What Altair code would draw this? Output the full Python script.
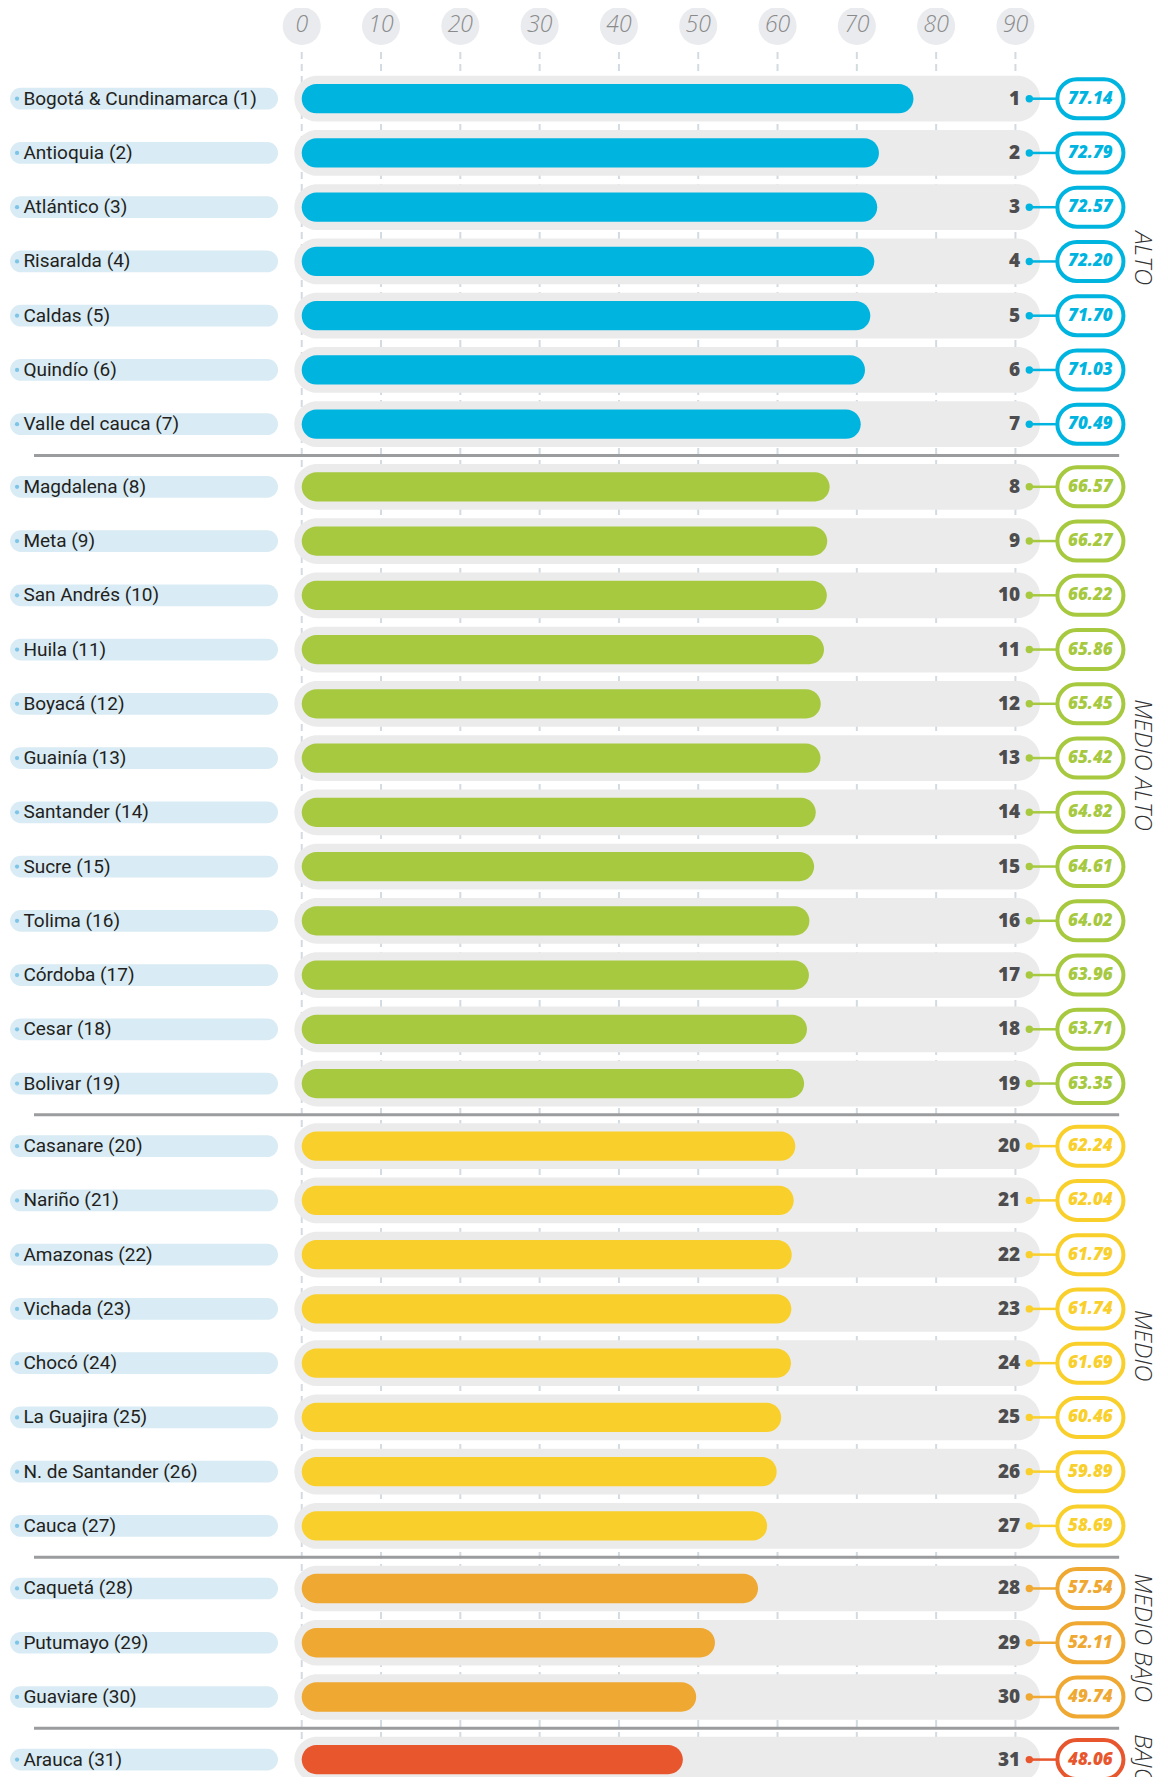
import altair as alt
import pandas as pd

# ---------------- data ----------------
names = ["Bogotá & Cundinamarca", "Antioquia", "Atlántico", "Risaralda", "Caldas",
         "Quindío", "Valle del cauca", "Magdalena", "Meta", "San Andrés", "Huila",
         "Boyacá", "Guainía", "Santander", "Sucre", "Tolima", "Córdoba", "Cesar",
         "Bolivar", "Casanare", "Nariño", "Amazonas", "Vichada", "Chocó",
         "La Guajira", "N. de Santander", "Cauca", "Caquetá", "Putumayo",
         "Guaviare", "Arauca"]
values = [77.14, 72.79, 72.57, 72.20, 71.70, 71.03, 70.49, 66.57, 66.27, 66.22,
          65.86, 65.45, 65.42, 64.82, 64.61, 64.02, 63.96, 63.71, 63.35, 62.24,
          62.04, 61.79, 61.74, 61.69, 60.46, 59.89, 58.69, 57.54, 52.11, 49.74,
          48.06]
group_names = ["ALTO", "MEDIO ALTO", "MEDIO", "MEDIO BAJO", "BAJO"]
group_sizes = [7, 12, 8, 3, 1]
group_colors = ["#00b4e0", "#a6c93f", "#f9cf2b", "#efa831", "#e8562e"]
tick_values = [0, 10, 20, 30, 40, 50, 60, 70, 80, 90]

# ---------------- layout constants ----------------
W, H = 1152, 1769
X_DOMAIN = [-37.04, 108.23]
Y_DOMAIN = [-1.672, 30.937]
GAP = 0.154
LABEL_SHIFT = [-0.06, -0.37, 0.18, -0.09, 0.0]   # vertical nudge of group titles (rows)

xs = alt.Scale(domain=X_DOMAIN, nice=False, zero=False, padding=0)
ys = alt.Scale(domain=Y_DOMAIN, nice=False, zero=False, reverse=True, padding=0)
cs = alt.Scale(domain=group_names, range=group_colors)

rows = []
rank = 0
for gi, (g, n) in enumerate(zip(group_names, group_sizes)):
    for _ in range(n):
        rows.append({
            "rank": rank + 1,
            "label": f"{names[rank]} ({rank + 1})",
            "value": values[rank],
            "vtxt": f"{values[rank]:.2f}",
            "group": g,
            "pos": rank + gi * GAP,
        })
        rank += 1
df = pd.DataFrame(rows)
df["zero"] = 0.0
df["bg0"], df["bg1"] = -0.93, 93.1
df["lp0"], df["lp1"] = -36.78, -2.99
df["ldot"] = -35.9
df["ltxt"] = -35.1
df["rtxt"] = 90.6
df["dot"] = 91.75
df["b0"], df["b1"] = 95.29, 103.62
df["bc"] = 99.45

grp = df.groupby("group", sort=False)["pos"].agg(["min", "max"]).reset_index()
grp["center"] = (grp["min"] + grp["max"]) / 2 + pd.Series(LABEL_SHIFT)
grp["gx"] = 105.95

seps = pd.DataFrame({"pos": [(grp["max"][i] + grp["min"][i + 1]) / 2 for i in range(len(grp) - 1)]})
seps["s0"], seps["s1"] = -33.76, 103.08

tk = pd.DataFrame({"t": tick_values})
tk["txt"] = tk["t"].astype(str)
tk["cy"] = -1.34
tk["ytop"] = -0.86
tk["ybot"] = Y_DOMAIN[1]

X = lambda f: alt.X(f, type="quantitative", scale=xs, axis=None)
Y = lambda f: alt.Y(f, type="quantitative", scale=ys, axis=None)
col = alt.Color("group:N", scale=cs, legend=None)

grid = alt.Chart(tk).mark_rule(strokeDash=[7, 5], color="#d3dbe2", strokeWidth=2).encode(
    x=X("t"), y=Y("ytop"), y2="ybot")
circ = alt.Chart(tk).mark_circle(size=1452, color="#e9ebee", opacity=1).encode(x=X("t"), y=Y("cy"))
ttxt = alt.Chart(tk).mark_text(font="Open Sans", fontStyle="italic", fontWeight=300,
                               fontSize=23, color="#8a8a8a", baseline="middle", dy=-1).encode(
    x=X("t"), y=Y("cy"), text="txt:N")

sep = alt.Chart(seps).mark_rule(color="#9b9c9e", strokeWidth=3).encode(x=X("s0"), x2="s1", y=Y("pos"))

base = alt.Chart(df)
bg = base.mark_bar(color="#ebebeb", size=45.7, cornerRadius=22.85, orient="horizontal").encode(
    x=X("bg0"), x2="bg1", y=Y("pos"))
bars = base.mark_bar(size=29.3, cornerRadius=14.65, orient="horizontal").encode(
    x=X("zero"), x2="value", y=Y("pos"), color=col)
lpill = base.mark_bar(color="#d9ebf4", size=21.7, cornerRadius=10.85, orient="horizontal").encode(
    x=X("lp0"), x2="lp1", y=Y("pos"))
ldot = base.mark_circle(size=18, color="#7cc5e6", opacity=1).encode(x=X("ldot"), y=Y("pos"))
ltxt = base.mark_text(align="left", baseline="middle", fontSize=19, font="Roboto",
                      color="#231f20").encode(x=X("ltxt"), y=Y("pos"), text="label:N")
rtxt = base.mark_text(align="right", baseline="middle", fontSize=19, fontWeight=800,
                      font="Open Sans", color="#4d4d4f").encode(x=X("rtxt"), y=Y("pos"), text="rank:N")
conn = base.mark_rule(strokeWidth=2.5).encode(x=X("dot"), x2="b0", y=Y("pos"), color=col)
cdot = base.mark_circle(size=55, opacity=1).encode(x=X("dot"), y=Y("pos"), color=col)
badge = base.mark_bar(fill="white", strokeWidth=4, size=39, cornerRadius=19.5, orient="horizontal").encode(
    x=X("b0"), x2="b1", y=Y("pos"), stroke=alt.Stroke("group:N", scale=cs, legend=None))
btxt = base.mark_text(align="center", baseline="middle", fontSize=17, fontWeight=800,
                      fontStyle="italic", font="Open Sans").encode(
    x=X("bc"), y=Y("pos"), text="vtxt:N", color=col)
gtxt = alt.Chart(grp).mark_text(angle=90, align="center", baseline="middle", fontSize=24,
                                fontWeight=300, fontStyle="italic", font="Open Sans",
                                color="#333333").encode(x=X("gx"), y=Y("center"), text="group:N")

chart = alt.layer(grid, circ, ttxt, sep, bg, bars, lpill, ldot, ltxt, rtxt, conn, cdot,
                  badge, btxt, gtxt).properties(
    width=W, height=H, autosize=alt.AutoSizeParams(type="none"), padding=0,
    background="white").configure_view(stroke=None)

chart.save("out.html", embed_options={"renderer": "svg", "actions": False})
